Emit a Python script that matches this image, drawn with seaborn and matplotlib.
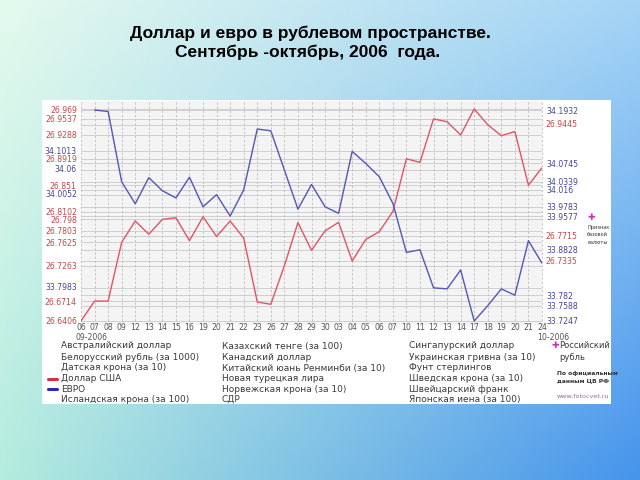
import numpy as np
import pandas as pd
import matplotlib
matplotlib.use("Agg")
import matplotlib.pyplot as plt
import matplotlib.transforms as mtransforms
from matplotlib.patches import Rectangle
import seaborn as sns

# ---------------- data ----------------
dates = ["06", "07", "08", "09", "12", "13", "14", "15", "16", "19", "20", "21",
         "22", "23", "26", "27", "28", "29", "30", "03", "04", "05", "06", "07",
         "10", "11", "12", "13", "14", "17", "18", "19", "20", "21", "24"]
usd = [26.6406, 26.6714, 26.6714, 26.7625, 26.7955, 26.775, 26.798, 26.8006,
       26.765, 26.802, 26.7715, 26.7955, 26.769, 26.670, 26.6665, 26.7263,
       26.793, 26.750, 26.7803, 26.7935, 26.7335, 26.767, 26.779, 26.8102,
       26.8919, 26.8864, 26.9537, 26.9493, 26.9288, 26.969, 26.9445, 26.9277,
       26.934, 26.851, 26.878]
eur = [np.nan, 34.1932, 34.19, 34.0339, 33.985, 34.043, 34.014, 33.998,
       34.044, 33.9783, 34.0052, 33.9577, 34.016, 34.151, 34.147, 34.06,
       33.973, 34.028, 33.9783, 33.9638, 34.1013, 34.0745, 34.045, 33.986,
       33.877, 33.8828, 33.7983, 33.796, 33.838, 33.7247, 33.7588, 33.796,
       33.782, 33.903, 33.853]

usd_left_labels = [26.969, 26.9537, 26.9288, 26.8919, 26.851, 26.8102, 26.798,
                   26.7803, 26.7625, 26.7263, 26.6714, 26.6406]
usd_right_labels = [26.9445, 26.7715, 26.7335]
eur_left_labels = [34.1013, 34.06, 34.0052, 33.7983]
eur_right_labels = [34.1932, 34.0745, 34.0339, 34.016, 33.9783, 33.9577,
                    33.8828, 33.782, 33.7588, 33.7247]

legend_col1 = ["Австралийский доллар", "Белорусский рубль (за 1000)",
               "Датская крона (за 10)", "Доллар США", "ЕВРО",
               "Исландская крона (за 100)"]
legend_col2 = ["Казахский тенге (за 100)", "Канадский доллар",
               "Китайский юань Ренминби (за 10)", "Новая турецкая лира",
               "Норвежская крона (за 10)", "СДР"]
legend_col3 = ["Сингапурский доллар", "Украинская гривна (за 10)",
               "Фунт стерлингов", "Шведская крона (за 10)",
               "Швейцарский франк", "Японская иена (за 100)"]

title1 = "Доллар и евро в рублевом пространстве."
title2 = "Сентябрь -октябрь, 2006  года."

# ---------------- style ----------------
RED_LINE = "#e05565"
BLUE_LINE = "#5656b8"
RED_TXT = "#c44848"
BLUE_TXT = "#45459a"
GRID = "#cfcfcf"

sns.set_style("white")
plt.rcParams["font.family"] = ["DejaVu Sans"]

W, H = 640, 480
fig = plt.figure(figsize=(6.4, 4.8), dpi=100)

def fx(px):
    return px / W

def fy(py):
    return 1 - py / H

# background gradient
bg = fig.add_axes([0, 0, 1, 1], zorder=-10)
bg.axis("off")
tl = np.array([228, 250, 238]) / 255
tr = np.array([165, 212, 246]) / 255
bl = np.array([180, 236, 222]) / 255
br = np.array([70, 148, 236]) / 255
u = np.linspace(0, 1, 200)[None, :, None]
v = np.linspace(0, 1, 150)[:, None, None]
grad = (1 - v) * ((1 - u) * tl + u * tr) + v * ((1 - u) * bl + u * br)
bg.imshow(grad, aspect="auto", extent=[0, 1, 0, 1], origin="upper")
bg.set_xlim(0, 1)
bg.set_ylim(0, 1)

# white panel
fig.patches.append(Rectangle((fx(42), fy(404)), fx(611) - fx(42), fy(100) - fy(404),
                             transform=fig.transFigure, facecolor="white",
                             edgecolor="none", zorder=-5))

# main axes
x0, x1, y0, y1 = 81, 542, 101, 325
ax = fig.add_axes([fx(x0), fy(y1), fx(x1) - fx(x0), fy(y0) - fy(y1)])
ax2 = ax.twinx()
ax.set_facecolor("#f4f4f4")
ax2.patch.set_visible(False)

df = pd.DataFrame({"i": np.arange(len(dates)), "usd": usd, "eur": eur})
sns.lineplot(data=df, x="i", y="usd", ax=ax, color=RED_LINE, lw=1.0, zorder=5)
sns.lineplot(data=df.dropna(), x="i", y="eur", ax=ax2, color=BLUE_LINE, lw=1.0, zorder=5)

ax.set_xlim(0, len(dates) - 1)
ax.set_ylim(26.6344, 26.9814)
ax2.set_ylim(33.7158, 34.2132)

for a in (ax, ax2):
    for s in a.spines.values():
        s.set_visible(False)
    a.set_xlabel("")
    a.set_ylabel("")

# horizontal grid lines
blend_r = mtransforms.blended_transform_factory(ax.transAxes, ax.transData)
blend_b = mtransforms.blended_transform_factory(ax.transAxes, ax2.transData)
for vv in usd_left_labels + usd_right_labels:
    ax.plot([0, 1], [vv, vv], transform=blend_r, color=GRID, lw=0.7, zorder=1)
for vv in eur_left_labels + eur_right_labels:
    ax.plot([0, 1], [vv, vv], transform=blend_b, color=GRID, lw=0.7, zorder=1)

# vertical dashed lines
ax.set_xticks(np.arange(len(dates)))
ax.set_xticklabels(dates, fontsize=5.6, color="#555555")
ax.tick_params(axis="x", length=0, pad=-1.5)
for i in range(len(dates)):
    ax.axvline(i, color="#b8b8b8", lw=0.6, ls=(0, (2.5, 2.5)), zorder=1,
               clip_on=False)

# y tick labels
ax.set_yticks(usd_left_labels)
ax.set_yticklabels([f"{v:g}" for v in usd_left_labels], fontsize=5.6, color=RED_TXT)
ax.tick_params(axis="y", length=0, pad=3)
ax2.set_yticks(eur_right_labels)
ax2.set_yticklabels([f"{v:g}" for v in eur_right_labels], fontsize=5.6, color=BLUE_TXT)
ax2.tick_params(axis="y", length=0, pad=3)

lb = mtransforms.blended_transform_factory(ax.transAxes, ax2.transData)
for vv in eur_left_labels:
    ax.text(-0.0087, vv, f"{vv:g}", transform=lb, ha="right", va="center",
            fontsize=5.6, color=BLUE_TXT)
rb = mtransforms.blended_transform_factory(ax.transAxes, ax.transData)
for vv in usd_right_labels:
    ax.text(1.0065, vv, f"{vv:g}", transform=rb, ha="left", va="center",
            fontsize=5.6, color=RED_TXT)

# month labels
fig.text(fx(76), fy(337), "09-2006", fontsize=5.6, color="#555555", va="center", ha="left")
fig.text(fx(537), fy(337), "10-2006", fontsize=5.6, color="#555555", va="center", ha="left")

# title
fig.text(fx(310), fy(33), title1, fontsize=12.5, fontweight="bold", ha="center",
         va="center", color="black", family=["Liberation Sans", "DejaVu Sans"])
fig.text(fx(308), fy(52), title2, fontsize=12.5, fontweight="bold", ha="center",
         va="center", color="black", family=["Liberation Sans", "DejaVu Sans"])

# legend text
rows = [346, 357, 368, 378.5, 389, 399.5]
for col, xpos in ((legend_col1, 61), (legend_col2, 222), (legend_col3, 409)):
    for t, yy in zip(col, rows):
        fig.text(fx(xpos), fy(yy), t, fontsize=6.5, color="#3a3a3a", va="center", ha="left")
fig.add_artist(plt.Line2D([fx(48), fx(57)], [fy(378.5), fy(378.5)], color="#d83040", lw=2.2))
fig.add_artist(plt.Line2D([fx(48), fx(57)], [fy(389), fy(389)], color="#2828b8", lw=2.2))

MAG = "#d02fc0"
fig.text(fx(555), fy(345.5), "✚", fontsize=6.5, color=MAG, ha="center", va="center")
fig.text(fx(559), fy(346), "Российский", fontsize=6.0, color="#3a3a3a", va="center", ha="left")
fig.text(fx(559), fy(357), "рубль", fontsize=6.0, color="#3a3a3a", va="center", ha="left")
fig.text(fx(557), fy(374), "По официальным", fontsize=4.3, color="#333333", va="center",
         ha="left", fontweight="bold")
fig.text(fx(557), fy(380.5), "данным ЦБ РФ", fontsize=4.3, color="#333333", va="center",
         ha="left", fontweight="bold")
fig.text(fx(557), fy(397), "www.fotocvet.ru", fontsize=4.6, color="#9a6a9a", va="center",
         ha="left")

fig.text(fx(591), fy(218), "✚", fontsize=6.5, color=MAG, ha="center", va="center")
for t, yy in zip(["Признак", "базовой", "валюты"], [228, 235, 242]):
    fig.text(fx(587), fy(yy), t, fontsize=3.6, color="#333333", va="center", ha="left")

fig.savefig("out.png", dpi=100)
